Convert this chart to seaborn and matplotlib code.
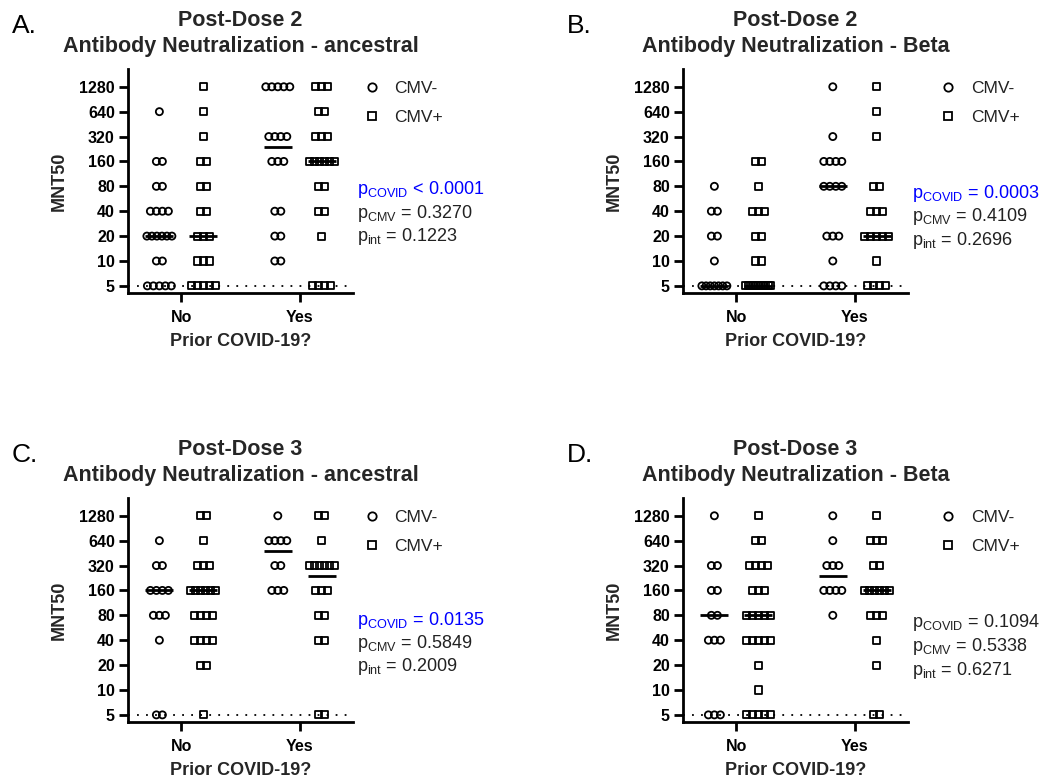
import matplotlib
matplotlib.use("Agg")
import matplotlib.pyplot as plt
import numpy as np
import pandas as pd
import seaborn as sns
from matplotlib.lines import Line2D
from matplotlib.ticker import NullLocator

sns.set_theme(style="ticks")
plt.rcParams['font.family'] = ['Liberation Sans', 'DejaVu Sans']
plt.rcParams['mathtext.fontset'] = 'custom'
plt.rcParams['mathtext.rm'] = 'Liberation Sans'
plt.rcParams['mathtext.it'] = 'Liberation Sans'

# titre levels (MNT50) and number of subjects at each level
levels = [5, 10, 20, 40, 80, 160, 320, 640, 1280]

# panel A: post-dose 2, ancestral
a_no_neg = [5, 2, 6, 4, 2, 2, 0, 1, 0]
a_no_pos = [5, 3, 3, 2, 2, 2, 1, 1, 1]
a_yes_neg = [0, 2, 2, 2, 0, 3, 4, 0, 5]
a_yes_pos = [4, 0, 1, 2, 2, 6, 3, 2, 3]

# panel B: post-dose 2, Beta
b_no_neg = [7, 1, 2, 2, 1, 0, 0, 0, 0]
b_no_pos = [11, 2, 2, 3, 1, 2, 0, 0, 0]
b_yes_neg = [4, 1, 3, 0, 4, 4, 1, 0, 1]
b_yes_pos = [4, 1, 5, 3, 2, 0, 1, 1, 1]

# panel C: post-dose 3, ancestral
c_no_neg = [2, 0, 0, 1, 3, 4, 2, 1, 0]
c_no_pos = [1, 0, 2, 4, 4, 6, 3, 1, 2]
c_yes_neg = [0, 0, 0, 0, 0, 3, 2, 4, 1]
c_yes_pos = [2, 0, 0, 2, 2, 3, 6, 1, 2]

# panel D: post-dose 3, Beta
d_no_neg = [3, 0, 0, 3, 2, 2, 2, 0, 1]
d_no_pos = [5, 1, 1, 5, 5, 3, 4, 2, 1]
d_yes_neg = [0, 0, 0, 0, 1, 4, 3, 1, 1]
d_yes_pos = [2, 0, 1, 1, 3, 6, 2, 3, 1]

p_covid = ['< 0.0001', '= 0.0003', '= 0.0135', '= 0.1094']
p_cmv = ['0.3270', '0.4109', '0.5849', '0.5338']
p_int = ['0.1223', '0.2696', '0.2009', '0.6271']
covid_signif = [True, True, True, False]

letters = ['A.', 'B.', 'C.', 'D.']
titles = ['Post-Dose 2\nAntibody Neutralization - ancestral',
          'Post-Dose 2\nAntibody Neutralization - Beta',
          'Post-Dose 3\nAntibody Neutralization - ancestral',
          'Post-Dose 3\nAntibody Neutralization - Beta']
counts = [(a_no_neg, a_no_pos, a_yes_neg, a_yes_pos),
          (b_no_neg, b_no_pos, b_yes_neg, b_yes_pos),
          (c_no_neg, c_no_pos, c_yes_neg, c_yes_pos),
          (d_no_neg, d_no_pos, d_yes_neg, d_yes_pos)]

groups = [('No', 'CMV-'), ('No', 'CMV+'), ('Yes', 'CMV-'), ('Yes', 'CMV+')]
covid_pos = {'No': 0.0, 'Yes': 1.0}
cmv_shift = {'CMV-': -0.185, 'CMV+': 0.185}

PX = 225 / 1.9          # pixels per x data unit
STEP = 6.0 / PX         # spacing of points sharing a titre
SPAN = 25.0 / PX        # widest a row may get before points overlap more


def make_df(cnts):
    frames = []
    for (covid, cmv), c in zip(groups, cnts):
        vals = np.repeat(levels, c)
        frames.append(pd.DataFrame({'covid': covid, 'cmv': cmv, 'mnt50': vals}))
    df = pd.concat(frames, ignore_index=True)
    df['center'] = df.covid.map(covid_pos) + df.cmv.map(cmv_shift)
    # GraphPad-style scatter: points of one row side by side, squeezed if many
    xs = np.zeros(len(df))
    for _, idx in df.groupby(['covid', 'cmv', 'mnt50']).groups.items():
        n = len(idx)
        step = min(STEP, SPAN / max(n - 1, 1))
        xs[np.asarray(idx)] = (np.arange(n) - (n - 1) / 2) * step
    df['xpos'] = df.center + xs
    return df


W, H = 1047, 782
fig = plt.figure(figsize=(W / 100, H / 100), dpi=100)

# axes rectangles in pixels: left, top
ax_px = [(128, 69), (683, 69), (128, 498), (683, 498)]
ax_w, ax_h = 225, 224
leg_x = [1.046, 1.14, 1.046, 1.14]
p_x = [1.02, 1.02, 1.02, 1.02]
p_y = [[0.46, 0.355, 0.25], [0.446, 0.342, 0.236], [0.455, 0.352, 0.248], [0.442, 0.338, 0.232]]

for i in range(4):
    left, top = ax_px[i]
    ax = fig.add_axes([left / W, (H - top - ax_h) / H, ax_w / W, ax_h / H])
    ax.set_yscale('log', base=2)
    df = make_df(counts[i])
    med = df.groupby(['covid', 'cmv'], as_index=False).agg(mnt50=('mnt50', 'median'),
                                                            xpos=('center', 'first'))

    ax.axhline(5, color='black', ls=(0, (1, 4)), lw=1.3, zorder=0)

    sns.scatterplot(data=df, x='xpos', y='mnt50', style='cmv',
                    markers={'CMV-': 'o', 'CMV+': 's'}, s=26, linewidth=1.3,
                    color='black', legend=False, ax=ax, zorder=3)
    for coll in ax.collections:
        coll.set_facecolor('none')
        coll.set_edgecolor('black')
        coll.set_linewidth(1.3)

    sns.scatterplot(data=med, x='xpos', y='mnt50', marker='_', s=420, linewidth=2,
                    color='black', legend=False, ax=ax, zorder=4)

    ax.set_xlim(-0.45, 1.45)
    ax.set_ylim(4.1, 2100)
    ax.set_xticks([covid_pos['No'], covid_pos['Yes']])
    ax.set_xticklabels(['No', 'Yes'])
    ax.set_yticks(levels)
    ax.set_yticklabels([str(v) for v in levels])
    ax.yaxis.set_minor_locator(NullLocator())
    sns.despine(ax=ax)
    for s in ['left', 'bottom']:
        ax.spines[s].set_linewidth(2)
        ax.spines[s].set_color('black')
    ax.tick_params(axis='both', length=6.5, width=2, color='black', labelsize=11.5,
                   labelcolor='black')
    ax.tick_params(axis='x', pad=5.5)
    ax.tick_params(axis='y', pad=3)
    for lab in ax.get_xticklabels() + ax.get_yticklabels():
        lab.set_fontweight('bold')
    ax.set_xlabel('Prior COVID-19?', fontsize=13, fontweight='bold', labelpad=6)
    ax.set_ylabel('MNT50', fontsize=13, fontweight='bold', labelpad=8)
    ax.set_title(titles[i], fontsize=15.5, fontweight='bold', linespacing=1.3, pad=12.5)

    handles = [Line2D([], [], marker='o', ls='none', mfc='none', mec='black', mew=1.3, ms=6),
               Line2D([], [], marker='s', ls='none', mfc='none', mec='black', mew=1.3, ms=6)]
    ax.legend(handles, ['CMV-', 'CMV+'], frameon=False, loc='upper left',
              bbox_to_anchor=(leg_x[i], 0.945), fontsize=12.5, handlelength=1.0,
              handletextpad=0.8, borderpad=0, borderaxespad=0, labelspacing=0.75,
              labelcolor='#222222')

    pc_color = 'blue' if covid_signif[i] else '#222222'
    ax.text(p_x[i], p_y[i][0], r'p$_{\mathrm{COVID}}$ ' + p_covid[i], transform=ax.transAxes,
            fontsize=13, color=pc_color, va='center', ha='left')
    ax.text(p_x[i], p_y[i][1], r'p$_{\mathrm{CMV}}$ = ' + p_cmv[i], transform=ax.transAxes,
            fontsize=13, color='#222222', va='center', ha='left')
    ax.text(p_x[i], p_y[i][2], r'p$_{\mathrm{int}}$ = ' + p_int[i], transform=ax.transAxes,
            fontsize=13, color='#222222', va='center', ha='left')

    fig.text((left - 116) / W, (H - top + 36) / H, letters[i], fontsize=19, color='black',
             ha='left', va='baseline')

fig.savefig('out.png', dpi=100)
